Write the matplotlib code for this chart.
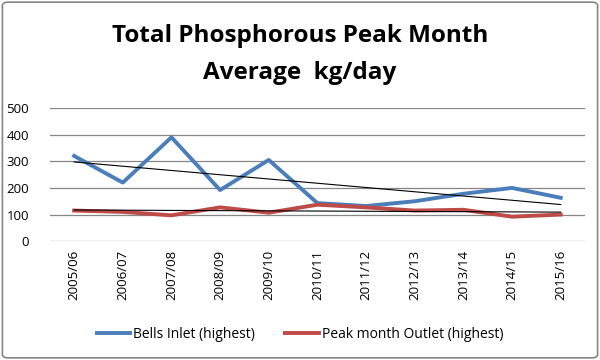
import numpy as np
import matplotlib.pyplot as plt
from matplotlib.patches import FancyBboxPatch

seasons = ['2005/06', '2006/07', '2007/08', '2008/09', '2009/10', '2010/11',
           '2011/12', '2012/13', '2013/14', '2014/15', '2015/16']
bells_inlet = [320, 220, 390, 192, 305, 143, 132, 150, 178, 200, 163]
peak_outlet = [115, 110, 97, 127, 107, 137, 127, 115, 118, 92, 100]

plt.rcParams['font.family'] = ['Open Sans', 'DejaVu Sans']

fig = plt.figure(figsize=(6, 3.6), dpi=100)
ax = fig.add_axes([0.083, 0.33, 0.892, 0.37])

x = np.arange(len(seasons))
ax.plot(x, bells_inlet, color='#4a7ebb', lw=2.8, label='Bells Inlet (highest)', zorder=3)
ax.plot(x, peak_outlet, color='#be4b48', lw=2.8, label='Peak month Outlet (highest)', zorder=3)

# linear trend lines
for ys in (bells_inlet, peak_outlet):
    k, b = np.polyfit(x, ys, 1)
    ax.plot(x, k * x + b, color='black', lw=0.8, zorder=4)

ax.set_ylim(0, 500)
ax.set_yticks([0, 100, 200, 300, 400, 500])
ax.set_xlim(-0.5, len(seasons) - 0.5)
ax.set_xticks(x)
ax.set_xticklabels(seasons, rotation=90, fontsize=9.5)
ax.tick_params(axis='y', labelsize=9.5, length=0, pad=15)
ax.tick_params(axis='x', length=0, pad=6)
ax.yaxis.grid(True, color='#868686', lw=0.9)
ax.set_axisbelow(True)
for s in ax.spines.values():
    s.set_visible(False)

fig.text(0.5, 0.9, 'Total Phosphorous Peak Month', ha='center', va='center',
         fontsize=17.5, fontweight='bold')
fig.text(0.5, 0.797, 'Average  kg/day', ha='center', va='center',
         fontsize=17.5, fontweight='bold')

fig.legend(loc='center', bbox_to_anchor=(0.5, 0.07), ncol=2, frameon=False,
           fontsize=10, handlelength=2.4, columnspacing=2.2, handletextpad=0.2)

border = FancyBboxPatch((0.004, 0.006), 0.992, 0.988, boxstyle='round,pad=0,rounding_size=0.01',
                        transform=fig.transFigure, fill=False, ec='#868686', lw=1.2)
fig.add_artist(border)

fig.savefig('out.png', dpi=100)
